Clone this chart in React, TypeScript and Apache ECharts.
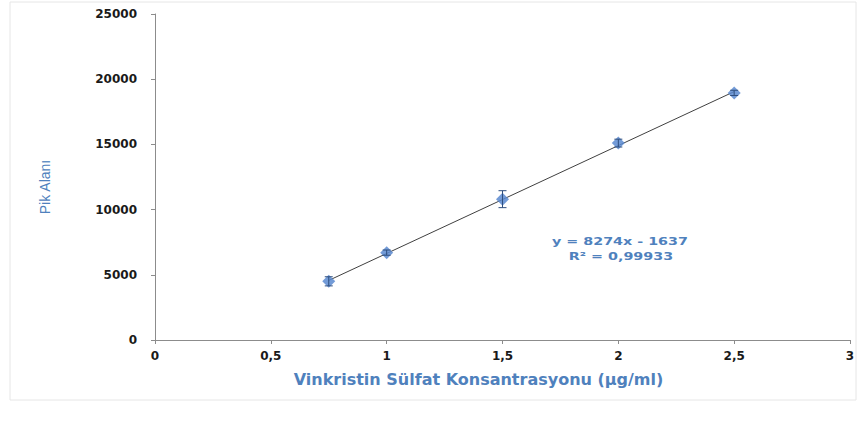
import React, { useEffect, useRef } from "react";
import * as echarts from "echarts";

const concentrations = [0.75, 1, 1.5, 2, 2.5];
const peakAreas = [4500, 6700, 10800, 15100, 18950];
const errors = [350, 200, 650, 300, 200];
const trendX = [0.75, 2.5];
const slope = 8274;
const intercept = -1637;
const xTicks = [0, 0.5, 1, 1.5, 2, 2.5, 3];
const equationText = "y = 8274x - 1637";
const r2Text = "R² = 0,99933";
const xTitle = "Vinkristin Sülfat Konsantrasyonu (µg/ml)";
const yTitle = "Pik Alanı";

const BLUE = "#4f81bd";
const LABEL = "#1a1a1a";

export default function App() {
  const ref = useRef<HTMLDivElement>(null);
  useEffect(() => {
    const chart = echarts.init(ref.current!, null, { renderer: "svg" });
    const points = concentrations.map((x, i) => [x, peakAreas[i]]);
    const errData = concentrations.map((x, i) => [x, peakAreas[i] - errors[i], peakAreas[i] + errors[i]]);
    const trend = trendX.map((x) => [x, slope * x + intercept]);
    chart.setOption({
      animation: false,
      backgroundColor: "#ffffff",
      grid: { left: 155, right: 11, top: 14, bottom: 90, containLabel: false },
      xAxis: {
        type: "value",
        min: 0,
        max: 3,
        interval: 0.5,
        axisLine: { show: true, lineStyle: { color: "#8c8c8c", width: 1 } },
        axisTick: { show: true, length: 4, lineStyle: { color: "#8c8c8c" } },
        splitLine: { show: false },
        axisLabel: {
          color: LABEL,
          fontFamily: "DejaVu Sans",
          fontWeight: "bold",
          fontSize: 12,
          margin: 10,
          formatter: (v: number) => (xTicks.includes(v) ? String(v).replace(".", ",") : ""),
        },
        name: xTitle,
        nameLocation: "middle",
        nameGap: 31,
        nameTextStyle: {
          color: BLUE,
          fontFamily: "DejaVu Sans",
          fontWeight: "bold",
          fontSize: 16,
          padding: [0, 48, 0, 0],
        },
      },
      yAxis: {
        type: "value",
        min: 0,
        max: 25000,
        interval: 5000,
        axisLine: { show: true, lineStyle: { color: "#8c8c8c", width: 1 } },
        axisTick: { show: true, length: 4, lineStyle: { color: "#8c8c8c" } },
        splitLine: { show: false },
        axisLabel: {
          color: LABEL,
          fontFamily: "DejaVu Sans",
          fontWeight: "bold",
          fontSize: 12,
          margin: 18,
          formatter: (v: number) => String(v),
        },
      },
      series: [
        {
          type: "line",
          data: trend,
          symbol: "none",
          lineStyle: { color: "#404040", width: 1 },
          z: 2,
        },
        {
          type: "scatter",
          data: points,
          symbol: "diamond",
          symbolSize: 13,
          itemStyle: { color: "#5b8ad0", opacity: 0.85 },
          z: 3,
        },
        {
          type: "custom",
          data: errData,
          z: 4,
          renderItem: (params: any, api: any) => {
            const x = api.value(0);
            const lo = api.coord([x, api.value(1)]);
            const hi = api.coord([x, api.value(2)]);
            const w = 4;
            const style = { stroke: "#2f4f7f", lineWidth: 1 };
            return {
              type: "group",
              children: [
                { type: "line", shape: { x1: lo[0], y1: lo[1], x2: hi[0], y2: hi[1] }, style },
                { type: "line", shape: { x1: lo[0] - w, y1: lo[1], x2: lo[0] + w, y2: lo[1] }, style },
                { type: "line", shape: { x1: hi[0] - w, y1: hi[1], x2: hi[0] + w, y2: hi[1] }, style },
              ],
            };
          },
        },
      ],
      graphic: [
        {
          type: "rect",
          shape: { x: 10, y: 2, width: 846, height: 398 },
          style: { fill: "none", stroke: "#e6e6e6", lineWidth: 1 },
          silent: true,
          z: -1,
        },
        {
          type: "text",
          x: 45,
          y: 187,
          rotation: Math.PI / 2,
          style: {
            text: yTitle,
            fill: BLUE,
            font: "14px 'Liberation Sans'",
            textAlign: "center",
            textVerticalAlign: "middle",
          },
        },
        {
          type: "text",
          x: 620,
          y: 241,
          scaleX: 1.3,
          style: {
            text: equationText,
            fill: BLUE,
            font: "bold 11px 'DejaVu Sans'",
            textAlign: "center",
            textVerticalAlign: "middle",
          },
        },
        {
          type: "text",
          x: 621,
          y: 256,
          scaleX: 1.3,
          style: {
            text: r2Text,
            fill: BLUE,
            font: "bold 11px 'DejaVu Sans'",
            textAlign: "center",
            textVerticalAlign: "middle",
          },
        },
      ],
    });
    return () => chart.dispose();
  }, []);
  return (
    <div
      ref={ref}
      style={{ position: "fixed", left: 0, top: 0, width: 861, height: 430 }}
    />
  );
}
